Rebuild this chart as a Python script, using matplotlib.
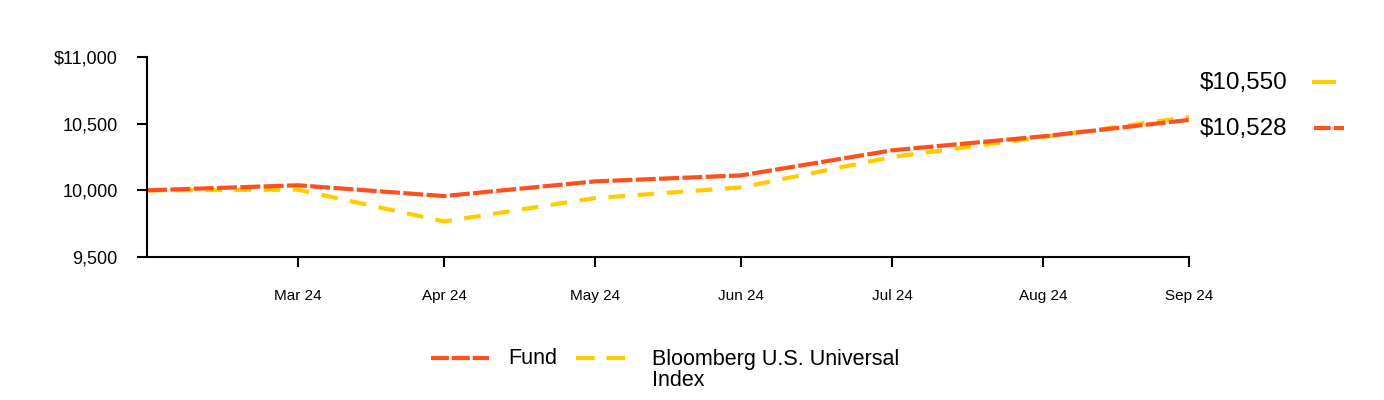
import matplotlib
matplotlib.use("Agg")
import matplotlib.pyplot as plt
import pandas as pd
from matplotlib.lines import Line2D

plt.rcParams["font.family"] = ["Liberation Sans", "DejaVu Sans"]

DATES = ["2024-02-29", "2024-03-31", "2024-04-30", "2024-05-31",
         "2024-06-30", "2024-07-31", "2024-08-31", "2024-09-30"]
FUND = [10000, 10038, 9957, 10067, 10112, 10300, 10405, 10528]
INDEX = [10000, 10005, 9767, 9942, 10022, 10250, 10400, 10550]
TICK_LABELS = ["Mar 24", "Apr 24", "May 24", "Jun 24", "Jul 24", "Aug 24", "Sep 24"]
Y_TICKS = [9500, 10000, 10500, 11000]
Y_LABELS = ["9,500", "10,000", "10,500", "$11,000"]
END_LABELS = ["$10,550", "$10,528"]
SERIES_NAMES = ["Fund", "Bloomberg U.S. Universal", "Index"]

FUND_COLOR = "#FF4F1A"
INDEX_COLOR = "#FFCC00"
FUND_DASH = (4.8, 0.8)
INDEX_DASH = (4.0, 3.0)

W, H = 1384, 400


def fx(px):
    return px / W


def fy(py):
    return 1 - py / H


x = pd.to_datetime(DATES)

fig = plt.figure(figsize=(W / 100, H / 100), dpi=100)
ax = fig.add_axes([fx(147), fy(257), (1189 - 147) / W, 200 / H])

ax.plot(x, INDEX, color=INDEX_COLOR, lw=3, dashes=INDEX_DASH)
ax.plot(x, FUND, color=FUND_COLOR, lw=3, dashes=FUND_DASH)

ax.set_xlim(x[0], x[-1])
ax.set_ylim(9500, 11000)
ax.set_xticks(x[1:])
ax.set_xticklabels(TICK_LABELS)
ax.set_yticks(Y_TICKS)
ax.set_yticklabels(Y_LABELS)

for s in ["top", "right"]:
    ax.spines[s].set_visible(False)
for s in ["left", "bottom"]:
    ax.spines[s].set_linewidth(1.5)
ax.tick_params(axis="x", length=7, width=1.5, pad=16, labelsize=11)
ax.tick_params(axis="y", length=7, width=1.5, pad=14, labelsize=13)

# end value labels on the right
fig.text(fx(1200), fy(83), END_LABELS[0], fontsize=17.5, va="center", ha="left")
fig.text(fx(1200), fy(129), END_LABELS[1], fontsize=17.5, va="center", ha="left")
fig.add_artist(Line2D([fx(1314), fx(1334)], [fy(82)] * 2, transform=fig.transFigure,
                      color=INDEX_COLOR, lw=3))
fig.add_artist(Line2D([fx(1314), fx(1344)], [fy(128)] * 2, transform=fig.transFigure,
                      color=FUND_COLOR, lw=3, dashes=(4.0, 0.8)))

# legend drawn by hand so the first row lines up with the wrapped label
fig.add_artist(Line2D([fx(431), fx(489)], [fy(358)] * 2, transform=fig.transFigure,
                      color=FUND_COLOR, lw=3, dashes=(4.3, 0.7)))
fig.text(fx(508), fy(359), SERIES_NAMES[0], fontsize=15.5, va="center", ha="left")
fig.add_artist(Line2D([fx(576), fx(627)], [fy(358)] * 2, transform=fig.transFigure,
                      color=INDEX_COLOR, lw=3, dashes=(4.5, 2.8)))
fig.text(fx(652), fy(359), SERIES_NAMES[1], fontsize=15.5, va="center", ha="left")
fig.text(fx(652), fy(381), SERIES_NAMES[2], fontsize=15.5, va="center", ha="left")

fig.savefig("out.png", dpi=100)
